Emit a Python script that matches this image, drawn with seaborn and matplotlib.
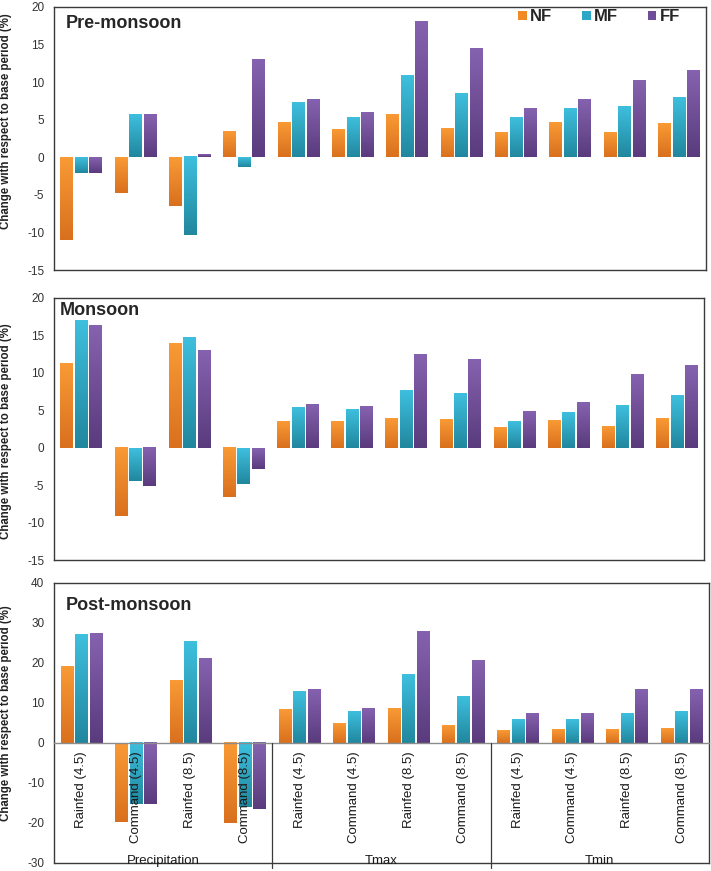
import numpy as np
import pandas as pd
import matplotlib
matplotlib.use('Agg')
import matplotlib.pyplot as plt
import seaborn as sns
from matplotlib.colors import LinearSegmentedColormap
from matplotlib.patches import Patch

# --- DATA ---
GROUPS = ['Precipitation', 'Tmax', 'Tmin']
CATEGORIES = ['Rainfed (4.5)', 'Command (4.5)', 'Rainfed (8.5)', 'Command (8.5)']
PERIODS = ['NF', 'MF', 'FF']

pre_nf = [-11.0, -4.7, -6.5, 3.4, 4.6, 3.6, 5.7, 3.8, 3.3, 4.6, 3.2, 4.5]
pre_mf = [-2.1, 5.6, -10.4, -1.3, 7.2, 5.2, 10.8, 8.4, 5.3, 6.4, 6.7, 7.9]
pre_ff = [-2.1, 5.6, 0.3, 13.0, 7.6, 5.9, 18.0, 14.4, 6.4, 7.6, 10.2, 11.5]

mon_nf = [11.3, -9.1, 13.9, -6.6, 3.5, 3.6, 4.0, 3.8, 2.8, 3.7, 2.9, 3.9]
mon_mf = [17.0, -4.4, 14.8, -4.8, 5.4, 5.1, 7.7, 7.3, 3.6, 4.7, 5.7, 7.0]
mon_ff = [16.4, -5.1, 13.0, -2.8, 5.8, 5.5, 12.5, 11.8, 4.9, 6.1, 9.8, 11.0]

post_nf = [19.1, -19.7, 15.7, -20.1, 8.4, 4.9, 8.6, 4.4, 3.2, 3.4, 3.4, 3.7]
post_mf = [27.1, -15.3, 25.4, -16.0, 12.9, 7.8, 17.0, 11.7, 5.9, 5.9, 7.3, 7.8]
post_ff = [27.4, -15.3, 21.0, -16.6, 13.4, 8.6, 27.8, 20.5, 7.3, 7.3, 13.4, 13.4]

SEASONS = ['Pre-monsoon', 'Monsoon', 'Post-monsoon']
season_values = {
    'Pre-monsoon': (pre_nf, pre_mf, pre_ff),
    'Monsoon': (mon_nf, mon_mf, mon_ff),
    'Post-monsoon': (post_nf, post_mf, post_ff),
}
Y_LIMITS = {'Pre-monsoon': (-15, 20, 5), 'Monsoon': (-15, 20, 5), 'Post-monsoon': (-30, 40, 10)}

# light (top) -> dark (bottom) fill of each bar
GRADIENTS = [('#F99A35', '#D9701E'), ('#3EBFDE', '#21879E'), ('#8562AF', '#5A3B7D')]
LEGEND_COLORS = ['#F08A24', '#2CA8C6', '#6F4D99']

sns.set_style('white')
plt.rcParams['font.family'] = ['Liberation Sans', 'DejaVu Sans']
plt.rcParams['axes.unicode_minus'] = False

slot_keys = [f'{g}|{c}' for g in GROUPS for c in CATEGORIES]
slot_labels = [c for g in GROUPS for c in CATEGORIES]


def season_frame(season):
    rows = []
    for period, vals in zip(PERIODS, season_values[season]):
        for key, v in zip(slot_keys, vals):
            rows.append({'slot': key, 'period': period, 'value': v})
    return pd.DataFrame(rows)


def shade_bars(ax):
    for container, (light, dark) in zip(ax.containers, GRADIENTS):
        cmap = LinearSegmentedColormap.from_list('bar', [light, dark])
        for bar in container:
            x, y = bar.get_x(), bar.get_y()
            w, h = bar.get_width(), bar.get_height()
            y0, y1 = sorted([y, y + h])
            ax.imshow(np.linspace(0, 1, 64).reshape(-1, 1), cmap=cmap,
                      extent=[x, x + w, y0, y1], aspect='auto', origin='upper',
                      interpolation='bilinear', zorder=2)
            bar.set_alpha(0)


fig = plt.figure(figsize=(7.11, 8.71), dpi=100)
axes_rects = [
    [0.076, 0.690, 0.917, 0.302],
    [0.076, 0.357, 0.914, 0.301],
    [0.076, 0.0092, 0.921, 0.3215],
]
title_pos = [(0.018, 0.939), (0.009, 0.950), (0.018, 0.918)]
label_y = [0.565, 0.49, 0.536]

for i, season in enumerate(SEASONS):
    ax = fig.add_axes(axes_rects[i])
    df = season_frame(season)
    sns.barplot(data=df, x='slot', y='value', hue='period', order=slot_keys,
                hue_order=PERIODS, palette=LEGEND_COLORS, width=0.8, gap=0.14,
                saturation=1, linewidth=0, legend=False, ax=ax)
    shade_bars(ax)
    lo, hi, step = Y_LIMITS[season]
    ax.set_xlim(-0.5, len(slot_keys) - 0.5)
    ax.set_ylim(lo, hi)
    ax.set_yticks(np.arange(lo, hi + step, step))
    ax.tick_params(axis='y', length=0, pad=7, labelsize=8.5, labelcolor='#333333')
    ax.set_xlabel('')
    ax.set_ylabel('Change with respect to base period (%)', fontsize=8.3,
                  fontweight='bold', color='#222222')
    ax.yaxis.set_label_coords(-0.064, label_y[i])
    for sp in ax.spines.values():
        sp.set_color('#3a3a3a')
        sp.set_linewidth(1.0)
    ax.text(title_pos[i][0], title_pos[i][1], season, transform=ax.transAxes,
            fontsize=13, fontweight='bold', va='center', ha='left')

    if i < 2:
        ax.set_xticks([])
    else:
        ax.set_axisbelow(False)
        ax.spines['bottom'].set_position(('data', 0))
        ax.spines['bottom'].set_color('#8c8c8c')
        ax.axhline(lo, color='#3a3a3a', lw=1.0, clip_on=False, zorder=3)
        ax.set_xticks(range(len(slot_keys)))
        ax.set_xticklabels(slot_labels, rotation=90, fontsize=9.5, color='#1a1a1a')
        ax.tick_params(axis='x', length=0, pad=6)
        zero_frac = (0 - lo) / (hi - lo)
        n = len(CATEGORIES)
        for k in range(1, len(GROUPS)):
            ax.axvline(k * n - 0.5, ymin=-0.018, ymax=zero_frac, color='#3a3a3a',
                       lw=0.9, clip_on=False, zorder=3)
        for k, g in enumerate(GROUPS):
            ax.annotate(g, xy=((k + 0.5) * n - 0.5, lo), xytext=(0, 1.5),
                        textcoords='offset points', ha='center', va='center',
                        fontsize=9.5, color='#1a1a1a', annotation_clip=False)

    if i == 0:
        handles = [Patch(facecolor=c, edgecolor='none') for c in LEGEND_COLORS]
        ax.legend(handles, PERIODS, ncol=3, loc='center right',
                  bbox_to_anchor=(0.97, 0.962), frameon=False,
                  prop={'weight': 'bold', 'size': 12}, handlelength=0.5,
                  handleheight=0.5, handletextpad=0.2, columnspacing=1.8,
                  borderaxespad=0)

fig.savefig('out.png', dpi=100)
